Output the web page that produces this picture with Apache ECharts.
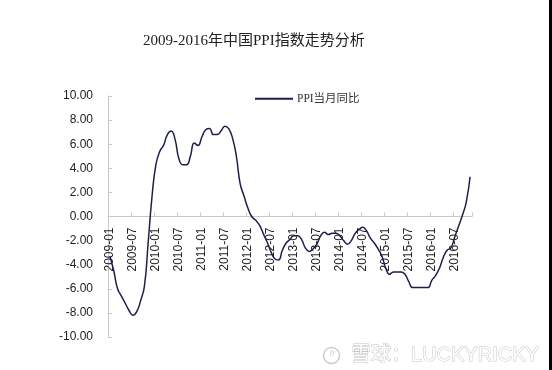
<!DOCTYPE html>
<html>
<head>
<meta charset="utf-8">
<style>html,body{margin:0;padding:0;background:#fff;}#c{width:552px;height:370px;}</style>
<script src="https://cdn.jsdelivr.net/npm/echarts@6/dist/echarts.min.js"></script>
</head>
<body>
<div id="c"></div>
<script>
const titleText = '2009-2016年中国PPI指数走势分析';
const seriesName = 'PPI当月同比';
const years = [2009, 2010, 2011, 2012, 2013, 2014, 2015, 2016];
const lastMonth2016 = 11;
const ppi2009 = [-3.3, -4.5, -6.0, -6.6, -7.2, -7.8, -8.2, -7.9, -7.0, -5.8, -2.1, 1.7];
const ppi2010 = [4.3, 5.4, 5.9, 6.8, 7.1, 6.4, 4.8, 4.3, 4.3, 5.0, 6.1, 5.9];
const ppi2011 = [6.6, 7.2, 7.3, 6.8, 6.8, 7.1, 7.5, 7.3, 6.5, 5.0, 2.7, 1.7];
const ppi2012 = [0.7, 0.0, -0.3, -0.7, -1.4, -2.1, -2.9, -3.5, -3.6, -2.8, -2.2, -1.9];
const ppi2013 = [-1.6, -1.6, -1.9, -2.6, -2.9, -2.7, -2.3, -1.6, -1.3, -1.5, -1.4, -1.4];
const ppi2014 = [-1.6, -2.0, -2.3, -2.0, -1.4, -1.1, -0.9, -1.2, -1.8, -2.2, -2.7, -3.3];
const ppi2015 = [-4.3, -4.8, -4.6, -4.6, -4.6, -4.8, -5.4, -5.9, -5.9, -5.9, -5.9, -5.9];
const ppi2016 = [-5.3, -4.9, -4.3, -3.4, -2.8, -2.6, -1.7, -0.8, 0.1, 1.2, 3.3];
const yTicks = [-10, -8, -6, -4, -2, 0, 2, 4, 6, 8, 10];

const categories = [];
years.forEach(y => {
  const n = y === 2016 ? lastMonth2016 : 12;
  for (let m = 1; m <= n; m++) categories.push(y + '-' + (m < 10 ? '0' + m : m));
});
const values = [].concat(ppi2009, ppi2010, ppi2011, ppi2012, ppi2013, ppi2014, ppi2015, ppi2016);

const W = 552, H = 370;
const gridTop = 96, gridBottom = 33;
const yMin = yTicks[0], yMax = yTicks[yTicks.length - 1];
const gridH = H - gridTop - gridBottom;
// move the category axis up to the value-axis zero line
const zeroOffset = -gridH * (0 - yMin) / (yMax - yMin);

const chart = echarts.init(document.getElementById('c'));
chart.setOption({
  backgroundColor: '#fff',
  animation: false,
  title: {
    text: titleText,
    left: 138, top: 29,
    textStyle: {fontSize: 15, fontWeight: 'normal', color: '#222', fontFamily: '"Liberation Serif", "Noto Sans CJK SC", serif'}
  },
  legend: {
    left: 255, top: 93, padding: 0,
    itemWidth: 38, itemHeight: 2, itemGap: 4,
    data: [{name: seriesName, icon: 'rect'}],
    textStyle: {fontSize: 11.5, color: '#333', padding: [0, 0, 0, -1], fontFamily: '"Liberation Serif", "Noto Sans CJK SC", serif'}
  },
  grid: {left: 108, right: 80, top: gridTop, bottom: gridBottom, containLabel: false, outerBoundsMode: 'none'},
  xAxis: {
    type: 'category',
    data: categories,
    boundaryGap: true,
    offset: zeroOffset,
    axisLine: {onZero: false, lineStyle: {color: '#c8c8c8', width: 1}},
    axisTick: {show: true, inside: true, length: 4, interval: 5, lineStyle: {color: '#c8c8c8'}},
    axisLabel: {interval: 5, rotate: 90, margin: 11, fontSize: 12, color: '#222', fontFamily: '"Liberation Sans", Arial, sans-serif'},
    splitLine: {show: false}
  },
  yAxis: {
    type: 'value',
    min: yMin, max: yMax, interval: 2,
    axisLine: {show: true, onZero: false, lineStyle: {color: '#c8c8c8', width: 1}},
    axisTick: {show: true, inside: true, length: 4, lineStyle: {color: '#c8c8c8'}},
    axisLabel: {margin: 15, fontSize: 12, color: '#222', fontFamily: '"Liberation Sans", Arial, sans-serif',
      formatter: v => v.toFixed(2)},
    splitLine: {show: false}
  },
  series: [{
    name: seriesName,
    type: 'line',
    data: values,
    smooth: true,
    symbol: 'none',
    color: '#1c1f4b',
    lineStyle: {width: 1.5, color: '#1c1f4b'}
  }],
  graphic: [
    {type: 'rect', shape: {x: 549, y: 0, width: 3, height: 370}, style: {fill: '#000'}},
    {type: 'circle', shape: {cx: 331.5, cy: 355.5, r: 8}, style: {fill: 'none', stroke: '#cccccc', lineWidth: 1.5}},
    {type: 'text', x: 326, y: 349, style: {text: '〃', fontSize: 12, fill: '#cccccc'}},
    {type: 'text', x: 351, y: 345, style: {text: '雪球：LUCKYRICKY', fontSize: 20, fill: '#fff', stroke: '#c4c4c4', lineWidth: 1,
      fontFamily: '"Liberation Sans", "Noto Sans CJK SC", sans-serif'}}
  ]
});
</script>
</body>
</html>
